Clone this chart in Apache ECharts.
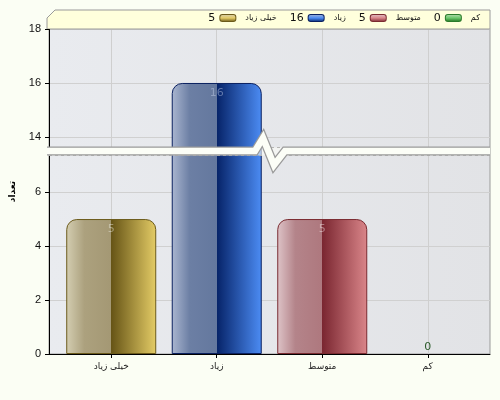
<!DOCTYPE html>
<html><head><meta charset="utf-8">
<script src="https://cdn.jsdelivr.net/npm/echarts@6/dist/echarts.min.js"></script>
<style>html,body{margin:0;padding:0;background:#FBFEF4;}#c{width:500px;height:400px;}</style>
</head><body><div id="c"></div>
<script>
const categories = ['خیلی زیاد', 'زیاد', 'متوسط', 'کم'];
const values = [5, 16, 5, 0];
const yTickValues = [0, 2, 4, 6, 14, 16, 18];
const yRange = {min: 0, max: 18};
const breakRange = {start: 7.37, end: 13.63};
const axisTitle = 'تعداد';

const palettes = [
  {border: '#6B5A1A', stops: ['#D4CEB2', '#ACA17E', '#A49874', '#665416', '#E4CC66'], label: 'rgba(235,235,225,0.45)'},
  {border: '#0A2060', stops: ['#AAB6D0', '#6C7FA4', '#64789E', '#062368', '#4C8CF4'], label: 'rgba(200,210,235,0.45)'},
  {border: '#7A2A30', stops: ['#DEC4C8', '#B4848A', '#AE787E', '#7A2630', '#DA868A'], label: 'rgba(245,230,232,0.45)'},
  {border: '#2A7A2A', stops: ['#BCDAB4', '#80B476', '#78AE6E', '#1E6E1E', '#6CC86C'], label: '#2A5A2A'}
];
function grad(s) {
  return new echarts.graphic.LinearGradient(0, 0, 1, 0, [
    {offset: 0, color: s[0]}, {offset: 0.2, color: s[1]}, {offset: 0.5, color: s[2]},
    {offset: 0.5, color: s[3]}, {offset: 1, color: s[4]}
  ]);
}
function iconGrad(s) {
  return new echarts.graphic.LinearGradient(0, 0, 0, 1, [
    {offset: 0, color: s[0]}, {offset: 0.5, color: s[4]}, {offset: 1, color: s[3]}
  ]);
}
const FONT = 'Tahoma, "DejaVu Sans", sans-serif';
const catIdx = categories.map((c, i) => i);
const series = categories.map((name, i) => ({
  name: name,
  type: 'bar',
  barWidth: 90,
  barGap: '-100%',
  data: [[catIdx[i], values[i]]],
  itemStyle: {color: grad(palettes[i].stops), borderColor: palettes[i].border, borderWidth: values[i] === 0 ? 0 : 1, borderRadius: [10, 10, 0, 0]},
  label: {show: true, position: values[i] === 0 ? 'top' : 'insideTop', distance: values[i] === 0 ? 1 : 5,
          color: palettes[i].label, fontSize: 11, fontFamily: FONT,
          formatter: p => String(p.value[1])},
  z: 2
}));

const rich = {v: {fontSize: 11, color: '#111', fontFamily: FONT, padding: [0, 5, 0, 0]},
              n: {fontSize: 8, color: '#111', fontFamily: FONT, padding: [0, 0, 0, 10]}};
palettes.forEach((p, i) => {
  rich['ic' + i] = {width: 15, height: 6, backgroundColor: iconGrad(p.stops), borderColor: p.border, borderWidth: 1, borderRadius: 2};
});

const chart = echarts.init(document.getElementById('c'), null, {renderer: 'canvas'});
const option = {
  backgroundColor: '#FBFEF4',
  animation: false,
  textStyle: {fontFamily: FONT},
  grid: {left: 47, right: 10, top: 29, bottom: 46, show: true, borderColor: '#9A9A9A', borderWidth: 1,
         backgroundColor: new echarts.graphic.LinearGradient(0, 0, 1, 0, [{offset: 0, color: '#E9EBEF'}, {offset: 1, color: '#E2E3E6'}])},
  legend: {
    right: 15, top: 7, icon: 'none', itemWidth: 0, itemHeight: 8, itemGap: 8,
    data: categories,
    formatter: function (name) {
      const i = categories.indexOf(name);
      return '{v|' + values[i] + '}{ic' + i + '|}{n|' + name + '}';
    },
    textStyle: {rich: rich}
  },
  xAxis: {
    type: 'value', min: -0.59, max: 3.59,
    axisLine: {show: true, onZero: false, lineStyle: {color: '#000'}},
    axisTick: {show: true, length: 4, customValues: catIdx, lineStyle: {color: '#000'}},
    axisLabel: {color: '#222', fontSize: 9, margin: 8, fontFamily: FONT, customValues: catIdx,
                formatter: v => categories[Math.round(v)]},
    splitLine: {show: true, lineStyle: {color: '#CFCFCF'}}
  },
  yAxis: {
    type: 'value', min: yRange.min, max: yRange.max,
    breaks: [{start: breakRange.start, end: breakRange.end, gap: '2.5%'}],
    breakArea: {show: true, itemStyle: {color: '#FCFEF7', borderColor: '#999', borderWidth: 1}, zigzagAmplitude: 0},
    name: axisTitle, nameLocation: 'middle', nameGap: 32, nameRotate: 90,
    nameTextStyle: {fontSize: 9, fontWeight: 'bold', color: '#000', fontFamily: FONT},
    axisLine: {show: true, onZero: false, lineStyle: {color: '#000'}},
    axisTick: {show: true, length: 4, customValues: yTickValues, lineStyle: {color: '#000'}},
    axisLabel: {color: '#111', fontSize: 11, margin: 8, fontFamily: 'Arial, "Liberation Sans", sans-serif',
                customValues: yTickValues},
    splitLine: {show: true, lineStyle: {color: '#D0D0D0'}}
  },
  series: series
};
chart.setOption(option);

// decorations: legend box and break band
const y1 = chart.convertToPixel({yAxisIndex: 0}, breakRange.start);
const y2 = chart.convertToPixel({yAxisIndex: 0}, breakRange.end);
let yb = (y1 + y2) / 2;
if (!isFinite(yb)) yb = 151;
const gl = 47, gr = 490;
const zig = [[gl, yb], [gl + 208, yb], [gl + 216, yb - 13], [gl + 227, yb + 14], [gl + 238, yb], [gr, yb]];
chart.setOption({
  graphic: [
    {type: 'polygon', z: 0, silent: true, shape: {points: [[gl, 18], [gl + 8, 10], [gr, 10], [gr, 29], [gl, 29]]},
     style: {fill: '#FFFFDC', stroke: '#9A9A9A', lineWidth: 1}},
    {type: 'polyline', z: 100, silent: true, shape: {points: zig}, style: {stroke: '#9A9A9A', lineWidth: 9, fill: null, lineJoin: 'miter'}},
    {type: 'polyline', z: 101, silent: true, shape: {points: zig}, style: {stroke: '#FCFEF7', lineWidth: 6.5, fill: null, lineJoin: 'miter'}}
  ]
});
</script></body></html>
